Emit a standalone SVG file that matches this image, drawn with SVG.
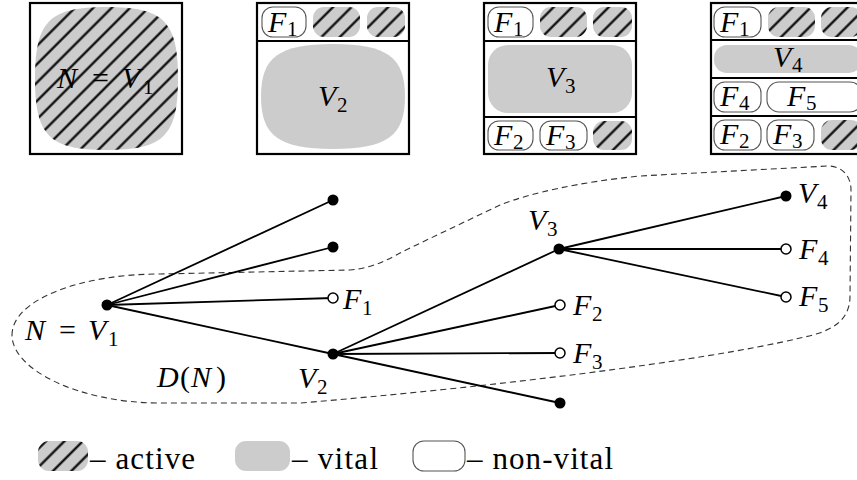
<svg xmlns="http://www.w3.org/2000/svg" width="857" height="480" viewBox="0 0 857 480" font-family="'Liberation Serif', 'Times New Roman', Tinos, 'DejaVu Serif', serif">
<style>
.box{fill:#fff;stroke:#000;stroke-width:2.2}
.div{stroke:#000;stroke-width:2}
.vital{fill:#cccccc;stroke:none}
.act{fill:url(#hatch);stroke:none}
.nv{fill:#fff;stroke:#555;stroke-width:1.1}
.m{font-family:'Liberation Serif','Times New Roman',Tinos,'DejaVu Serif',serif;font-style:italic;font-size:30px;fill:#000}
.r{font-style:normal}
.s{font-style:normal;font-size:21px}
.t{font-family:'Liberation Serif','Times New Roman',Tinos,'DejaVu Serif',serif;font-size:31px;fill:#000}
.edge{stroke:#000;stroke-width:1.8;fill:none}
.full{fill:#000}
.open{fill:#fff;stroke:#000;stroke-width:1.5}
.hull{fill:none;stroke:#333;stroke-width:1.1;stroke-dasharray:6 4}
</style>
<defs>
<pattern id="hatch" patternUnits="userSpaceOnUse" width="13" height="13" patternTransform="rotate(45)">
<rect width="13" height="13" fill="#cccccc"/>
<line x1="6.5" y1="0" x2="6.5" y2="13" stroke="#000" stroke-width="2.2"/>
</pattern>
</defs>

<!-- Box 1 -->
<g id="box1">
<rect class="box" x="30" y="3" width="152" height="151"/>
<path class="act" d="M106.5,7 C163.7,7 178,21.3 178,78.5 C178,135.7 163.7,150 106.5,150 C49.3,150 35,135.7 35,78.5 C35,21.3 49.3,7 106.5,7Z"/>
<text class="m" y="88"><tspan x="57">N</tspan><tspan x="92" class="r">=</tspan><tspan x="122">V</tspan><tspan x="143" y="94" class="s">1</tspan></text>
</g>

<!-- Box 2 -->
<g id="box2">
<rect class="box" x="257" y="3" width="152" height="151"/>
<line class="div" x1="257" y1="41" x2="409" y2="41"/>
<rect class="nv" x="262" y="7" width="44" height="30" rx="11"/>
<text class="m" y="32"><tspan x="268">F</tspan><tspan x="287" y="36" class="s">1</tspan></text>
<rect class="act" x="313" y="7" width="47" height="30" rx="11"/>
<rect class="act" x="367" y="7" width="38" height="30" rx="11"/>
<path class="vital" d="M333,44 C387,44 405,57.1 405,96.5 C405,135.9 387,149 333,149 C279,149 261,135.9 261,96.5 C261,57.1 279,44 333,44Z"/>
<text class="m" y="106"><tspan x="318">V</tspan><tspan x="337" y="112" class="s">2</tspan></text>
</g>

<!-- Box 3 -->
<g id="box3">
<rect class="box" x="484" y="3" width="152" height="151"/>
<line class="div" x1="484" y1="41" x2="636" y2="41"/>
<line class="div" x1="484" y1="117" x2="636" y2="117"/>
<rect class="nv" x="488" y="7" width="45" height="30" rx="11"/>
<text class="m" y="32"><tspan x="494">F</tspan><tspan x="513" y="36" class="s">1</tspan></text>
<rect class="act" x="540" y="7" width="47" height="30" rx="11"/>
<rect class="act" x="593" y="7" width="39" height="30" rx="11"/>
<rect class="vital" x="488" y="45" width="144" height="68" rx="20"/>
<text class="m" y="87"><tspan x="546">V</tspan><tspan x="565" y="93" class="s">3</tspan></text>
<rect class="nv" x="488" y="121" width="45" height="29" rx="11"/>
<text class="m" y="145"><tspan x="494">F</tspan><tspan x="513" y="149" class="s">2</tspan></text>
<rect class="nv" x="540" y="121" width="47" height="29" rx="11"/>
<text class="m" y="145"><tspan x="546">F</tspan><tspan x="565" y="149" class="s">3</tspan></text>
<rect class="act" x="593" y="121" width="39" height="29" rx="11"/>
</g>

<!-- Box 4 -->
<g id="box4">
<rect class="box" x="711" y="3" width="153" height="151"/>
<line class="div" x1="711" y1="40" x2="864" y2="40"/>
<line class="div" x1="711" y1="78" x2="864" y2="78"/>
<line class="div" x1="711" y1="116" x2="864" y2="116"/>
<rect class="nv" x="714" y="7" width="47" height="30" rx="11"/>
<text class="m" y="32"><tspan x="720">F</tspan><tspan x="739" y="36" class="s">1</tspan></text>
<rect class="act" x="768" y="7" width="47" height="30" rx="11"/>
<rect class="act" x="821" y="7" width="41" height="30" rx="11"/>
<rect class="vital" x="714" y="45" width="148" height="28" rx="13"/>
<text class="m" y="67"><tspan x="773">V</tspan><tspan x="792" y="72" class="s">4</tspan></text>
<rect class="nv" x="714" y="82" width="47" height="30" rx="11"/>
<text class="m" y="106"><tspan x="720">F</tspan><tspan x="739" y="110" class="s">4</tspan></text>
<rect class="nv" x="767" y="82" width="95" height="30" rx="12"/>
<text class="m" y="106"><tspan x="787">F</tspan><tspan x="806" y="110" class="s">5</tspan></text>
<rect class="nv" x="714" y="120" width="47" height="30" rx="11"/>
<text class="m" y="144"><tspan x="720">F</tspan><tspan x="739" y="148" class="s">2</tspan></text>
<rect class="nv" x="767" y="120" width="47" height="30" rx="11"/>
<text class="m" y="144"><tspan x="773">F</tspan><tspan x="792" y="148" class="s">3</tspan></text>
<rect class="act" x="821" y="120" width="41" height="30" rx="11"/>
</g>

<!-- Hull D(N) -->
<g id="hull">
<path class="hull" d="M12,335 C12,300 80,274 160,274 L350,270 C375,268 390,258 410,248 L500,205 C530,193 580,182 640,176 L828,166 C842,166 851,176 851,190 L850,296 C850,322 830,332 800,338 C700,362 480,388 300,403 L160,403 C80,403 12,370 12,335Z"/>
<text class="m" y="387"><tspan x="157">D</tspan><tspan x="180" class="r">(</tspan><tspan x="191">N</tspan><tspan x="216" class="r">)</tspan></text>
</g>

<!-- Connectors -->
<g id="connectors">
<line class="edge" x1="107" y1="305" x2="333" y2="200"/>
<line class="edge" x1="107" y1="305" x2="333" y2="247"/>
<line class="edge" x1="107" y1="305" x2="333" y2="298"/>
<line class="edge" x1="107" y1="305" x2="333" y2="354"/>
<line class="edge" x1="333" y1="354" x2="559" y2="249"/>
<line class="edge" x1="333" y1="354" x2="560" y2="305"/>
<line class="edge" x1="333" y1="354" x2="560" y2="353"/>
<line class="edge" x1="333" y1="354" x2="560" y2="403"/>
<line class="edge" x1="559" y1="249" x2="786" y2="196"/>
<line class="edge" x1="559" y1="249" x2="786" y2="249"/>
<line class="edge" x1="559" y1="249" x2="786" y2="297"/>
</g>

<!-- Graph nodes -->
<g id="nV1"><circle class="full" cx="107" cy="305" r="5.5"/>
<text class="m" y="340"><tspan x="25">N</tspan><tspan x="59" class="r">=</tspan><tspan x="88">V</tspan><tspan x="108" y="346" class="s">1</tspan></text></g>
<g id="nA"><circle class="full" cx="333" cy="200" r="5.5"/></g>
<g id="nB"><circle class="full" cx="333" cy="247" r="5.5"/></g>
<g id="nF1"><circle class="open" cx="333" cy="298" r="5"/>
<text class="m" y="309"><tspan x="343">F</tspan><tspan x="362" y="315" class="s">1</tspan></text></g>
<g id="nV2"><circle class="full" cx="333" cy="354" r="5.5"/>
<text class="m" y="388"><tspan x="298">V</tspan><tspan x="317" y="394" class="s">2</tspan></text></g>
<g id="nV3"><circle class="full" cx="559" cy="249" r="5.5"/>
<text class="m" y="230"><tspan x="528">V</tspan><tspan x="547" y="236" class="s">3</tspan></text></g>
<g id="nF2"><circle class="open" cx="560" cy="305" r="5"/>
<text class="m" y="315"><tspan x="573">F</tspan><tspan x="592" y="321" class="s">2</tspan></text></g>
<g id="nF3"><circle class="open" cx="560" cy="353" r="5"/>
<text class="m" y="363"><tspan x="573">F</tspan><tspan x="592" y="369" class="s">3</tspan></text></g>
<g id="nC"><circle class="full" cx="560" cy="403" r="5.5"/></g>
<g id="nV4"><circle class="full" cx="786" cy="196" r="5.5"/>
<text class="m" y="203"><tspan x="798">V</tspan><tspan x="817" y="209" class="s">4</tspan></text></g>
<g id="nF4"><circle class="open" cx="786" cy="249" r="5"/>
<text class="m" y="259"><tspan x="799">F</tspan><tspan x="818" y="265" class="s">4</tspan></text></g>
<g id="nF5"><circle class="open" cx="786" cy="297" r="5"/>
<text class="m" y="306"><tspan x="799">F</tspan><tspan x="818" y="312" class="s">5</tspan></text></g>

<!-- Legend -->
<g id="legend">
<rect class="act" x="38" y="441" width="50" height="30" rx="11"/>
<text class="t" x="90" y="469" textLength="105" lengthAdjust="spacing">– active</text>
<rect class="vital" x="235" y="441" width="55" height="30" rx="11"/>
<text class="t" x="292" y="469" textLength="86" lengthAdjust="spacing">– vital</text>
<rect class="nv" x="413" y="441" width="52" height="30" rx="11"/>
<text class="t" x="467" y="469" textLength="146" lengthAdjust="spacing">– non-vital</text>
</g>
</svg>
